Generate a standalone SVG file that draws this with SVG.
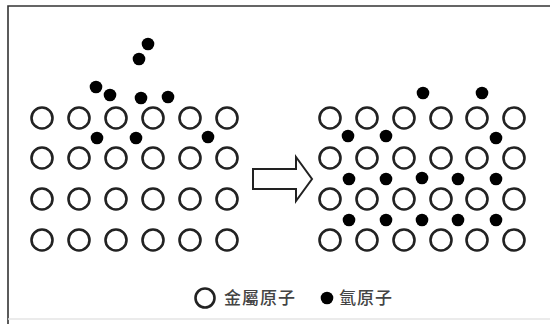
<svg xmlns="http://www.w3.org/2000/svg" width="550" height="324" viewBox="0 0 550 324">
  <defs>
    <style>
      .metal { fill: #fff; stroke: #222; stroke-width: 2.6; }
      .h { fill: #000; }
      .frame { fill: none; stroke: #333; stroke-width: 1.6; }
      .label { font-family: "Noto Sans CJK TC", "Noto Sans CJK SC", sans-serif; font-size: 17px; font-weight: 500; fill: #444; }
    </style>
    <circle id="m" class="metal" r="10.5"/>
    <circle id="hd" class="h" r="6.3"/>
  </defs>

  <rect width="550" height="324" fill="#fff"/>
  <!-- frame -->
  <path class="frame" d="M8,324 V6 H550"/>
  <line x1="8" y1="319" x2="550" y2="319" stroke="#e4e4e4" stroke-width="1.5"/>

  <!-- before: metal lattice with hydrogen at surface -->
  <g id="lattice-before">
    <g id="metal-before">
      <use href="#m" x="42" y="118"/><use href="#m" x="79" y="118"/><use href="#m" x="116" y="118"/><use href="#m" x="153" y="118"/><use href="#m" x="190" y="118"/><use href="#m" x="227" y="118"/>
      <use href="#m" x="42" y="158"/><use href="#m" x="79" y="158"/><use href="#m" x="116" y="158"/><use href="#m" x="153" y="158"/><use href="#m" x="190" y="158"/><use href="#m" x="227" y="158"/>
      <use href="#m" x="42" y="199"/><use href="#m" x="79" y="199"/><use href="#m" x="116" y="199"/><use href="#m" x="153" y="199"/><use href="#m" x="190" y="199"/><use href="#m" x="227" y="199"/>
      <use href="#m" x="42" y="240"/><use href="#m" x="79" y="240"/><use href="#m" x="116" y="240"/><use href="#m" x="153" y="240"/><use href="#m" x="190" y="240"/><use href="#m" x="227" y="240"/>
    </g>
    <g id="hydrogen-before">
      <use href="#hd" x="148" y="44"/><use href="#hd" x="139" y="59"/>
      <use href="#hd" x="96" y="87"/><use href="#hd" x="110" y="95"/>
      <use href="#hd" x="141" y="98"/><use href="#hd" x="168" y="97"/>
      <use href="#hd" x="97" y="138"/><use href="#hd" x="136" y="138"/><use href="#hd" x="208" y="137"/>
    </g>
  </g>

  <!-- process arrow -->
  <g id="arrow">
    <polygon points="253,169 296,169 296,157 312,179 296,201 296,189 253,189" fill="#fff" stroke="#222" stroke-width="2" stroke-linejoin="miter"/>
  </g>

  <!-- after: hydrogen absorbed into interstitial sites -->
  <g id="lattice-after">
    <g id="metal-after">
      <use href="#m" x="330" y="118"/><use href="#m" x="367" y="118"/><use href="#m" x="404" y="118"/><use href="#m" x="441" y="118"/><use href="#m" x="477" y="118"/><use href="#m" x="514" y="118"/>
      <use href="#m" x="330" y="158"/><use href="#m" x="367" y="158"/><use href="#m" x="404" y="158"/><use href="#m" x="441" y="158"/><use href="#m" x="477" y="158"/><use href="#m" x="514" y="158"/>
      <use href="#m" x="330" y="199"/><use href="#m" x="367" y="199"/><use href="#m" x="404" y="199"/><use href="#m" x="441" y="199"/><use href="#m" x="477" y="199"/><use href="#m" x="514" y="199"/>
      <use href="#m" x="330" y="240"/><use href="#m" x="367" y="240"/><use href="#m" x="404" y="240"/><use href="#m" x="441" y="240"/><use href="#m" x="477" y="240"/><use href="#m" x="514" y="240"/>
    </g>
    <g id="hydrogen-after">
      <use href="#hd" x="423" y="93"/><use href="#hd" x="482" y="93"/>
      <use href="#hd" x="348" y="136"/><use href="#hd" x="386" y="136"/><use href="#hd" x="496" y="138"/>
      <use href="#hd" x="349" y="179"/><use href="#hd" x="386" y="179"/><use href="#hd" x="422" y="178"/><use href="#hd" x="458" y="179"/><use href="#hd" x="496" y="179"/>
      <use href="#hd" x="349" y="220"/><use href="#hd" x="386" y="220"/><use href="#hd" x="422" y="220"/><use href="#hd" x="458" y="220"/><use href="#hd" x="496" y="220"/>
    </g>
  </g>

  <!-- legend -->
  <g id="legend">
    <g id="legend-metal">
      <circle class="metal" cx="205" cy="298" r="9.5"/>
      <text class="label" x="224" y="304" textLength="71" lengthAdjust="spacing">金屬原子</text>
    </g>
    <g id="legend-hydrogen">
      <circle class="h" cx="327" cy="298" r="6.3"/>
      <text class="label" x="339" y="304" textLength="53" lengthAdjust="spacing">氫原子</text>
    </g>
  </g>
</svg>
